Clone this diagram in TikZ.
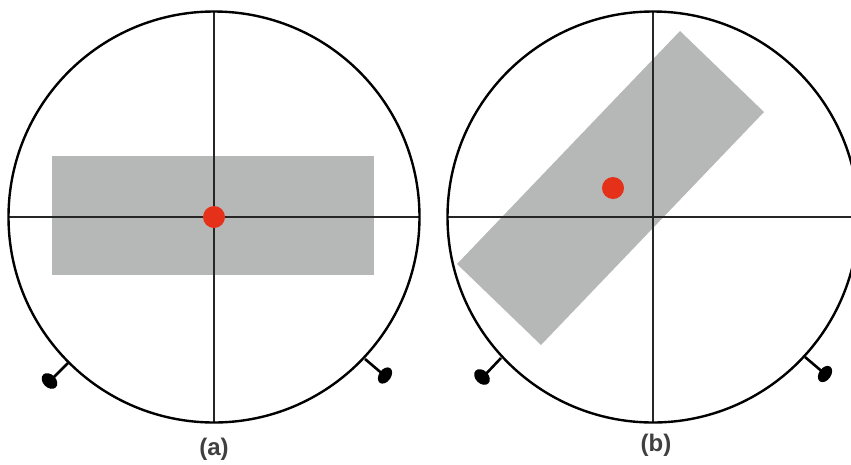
\documentclass[tikz,border=0pt]{standalone}
\usepackage{fontspec}
\setmainfont{Liberation Sans}
\usepackage{xcolor}
\usepackage{tikz}
\definecolor{platecol}{HTML}{B5B8B6}
\definecolor{dotcol}{HTML}{E5301A}
\tikzset{
  rim/.style={black,line width=2.4pt},
  cross/.style={black!85,line width=1.3pt},
  pinstem/.style={black,line width=2.6pt},
  plate/.style={fill=platecol,draw=none},
  caption/.style={font=\bfseries\fontsize{24}{26}\selectfont,text=black!75,inner sep=0pt},
}
\begin{document}
\begin{tikzpicture}[x=1pt,y=-1pt]
  \useasboundingbox (0,0) rectangle (851,464);
  % panel a
  \fill[plate] (52,156) rectangle (374,275);
  \draw[cross] (9,217) -- (419,217);
  \draw[cross] (214,11) -- (214,423);
  \draw[rim] (214,217) circle (205.5);
  \fill[dotcol] (214,217) circle (11);
  % feet of panel a
  \draw[pinstem] (68,363) -- (50,381);
  \fill[black] (49.5,381) ellipse [x radius=9,y radius=6.5,rotate=-45];
  \draw[pinstem] (365,359) -- (385,376);
  \fill[black] (385,375.5) ellipse [x radius=9,y radius=6,rotate=55];
  % panel b
  \fill[plate] (680,31) -- (764,112) -- (541,345) -- (457,264) -- cycle;
  \draw[cross] (448,217) -- (858,217);
  \draw[cross] (653,11) -- (653,423);
  \draw[rim] (653,217) circle (205.5);
  \fill[dotcol] (613,188) circle (11);
  % feet of panel b
  \draw[pinstem] (501,358) -- (484,376);
  \fill[black] (482,377) ellipse [x radius=9,y radius=6.5,rotate=-45];
  \draw[pinstem] (805,357) -- (825,374);
  \fill[black] (825,374) ellipse [x radius=9,y radius=6,rotate=55];
  % labels
  \node[caption] (capa) at (214,449) {(a)};
  \node[caption] (capb) at (656,445) {(b)};
\end{tikzpicture}
\end{document}
